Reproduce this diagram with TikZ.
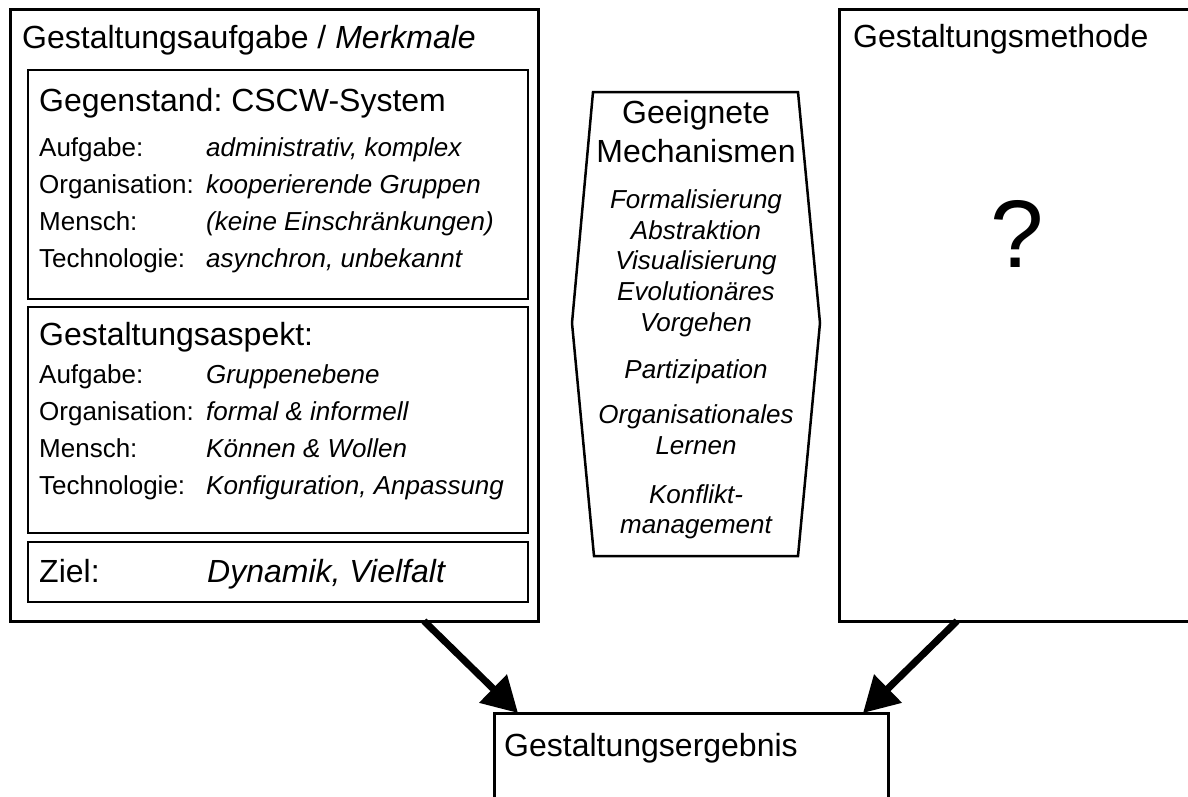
\documentclass[tikz,border=0pt]{standalone}
\usepackage{fontspec}
\setmainfont{Liberation Sans}
\usetikzlibrary{arrows.meta,calc}
\frenchspacing
\begin{document}
\begin{tikzpicture}[x=1pt,y=-1pt,
  bigtxt/.style={font=\fontsize{32}{38}\selectfont, inner sep=0pt, anchor=base west},
  bigit/.style={font=\fontsize{32}{38}\selectfont\itshape, inner sep=0pt, anchor=base west},
  lbltxt/.style={font=\fontsize{26}{31}\selectfont, inner sep=0pt, anchor=base west},
  valtxt/.style={font=\fontsize{26}{31}\selectfont\itshape, inner sep=0pt, anchor=base west},
  mechhead/.style={font=\fontsize{32}{38}\selectfont, inner sep=0pt, anchor=base},
  mechtxt/.style={font=\fontsize{26}{31}\selectfont\itshape, inner sep=0pt, anchor=base},
  outerbox/.style={draw, line width=3pt, inner sep=0pt, outer sep=0pt, anchor=north west},
  innerbox/.style={draw, line width=2pt, inner sep=0pt, outer sep=0pt, anchor=north west},
  plainbox/.style={inner sep=0pt, outer sep=0pt, anchor=north west},
  flow/.style={line width=7pt, -{Triangle[length=35pt,width=38pt]}},
]
\clip (0,0) rectangle (1188,796);
\fill[white] (0,0) rectangle (1188,796);

% design task with its characteristics
\node[outerbox, minimum width=528pt, minimum height=612pt] (task) at (10,9) {};
\node[bigtxt] (taskhead) at (22,48) {Gestaltungsaufgabe / \textit{Merkmale}};

\node[innerbox, minimum width=500pt, minimum height=229pt] (object) at (28,70) {};
\node[bigtxt] (objhead) at (39,111) {Gegenstand: CSCW-System};
\node[lbltxt] (o1l) at (39,156) {Aufgabe:};
\node[valtxt] (o1v) at (206,156) {administrativ, komplex};
\node[lbltxt] (o2l) at (39,193) {Organisation:};
\node[valtxt] (o2v) at (206,193) {kooperierende Gruppen};
\node[lbltxt] (o3l) at (39,230) {Mensch:};
\node[valtxt] (o3v) at (206,230) {(keine Einschränkungen)};
\node[lbltxt] (o4l) at (39,267) {Technologie:};
\node[valtxt] (o4v) at (206,267) {asynchron, unbekannt};

\node[innerbox, minimum width=500pt, minimum height=226pt] (aspect) at (28,307) {};
\node[bigtxt] (asphead) at (39,345) {Gestaltungsaspekt:};
\node[lbltxt] (a1l) at (39,383) {Aufgabe:};
\node[valtxt] (a1v) at (206,383) {Gruppenebene};
\node[lbltxt] (a2l) at (39,420) {Organisation:};
\node[valtxt] (a2v) at (206,420) {formal \& informell};
\node[lbltxt] (a3l) at (39,457) {Mensch:};
\node[valtxt] (a3v) at (206,457) {Können \& Wollen};
\node[lbltxt] (a4l) at (39,494) {Technologie:};
\node[valtxt] (a4v) at (206,494) {Konfiguration, Anpassung};

\node[innerbox, minimum width=500pt, minimum height=60pt] (goal) at (28,542) {};
\node[bigtxt] (goall) at (39,582) {Ziel:};
\node[bigit] (goalv) at (207,582) {Dynamik, Vielfalt};

% suitable mechanisms (hexagon)
\coordinate (h1) at (593,92);
\coordinate (h2) at (798,92);
\coordinate (h3) at (820,323);
\coordinate (h4) at (798,556);
\coordinate (h5) at (594,556);
\coordinate (h6) at (572,323);
\draw[line width=2.5pt, line join=miter] (h1) -- (h2) -- (h3) -- (h4) -- (h5) -- (h6) -- cycle;
\node[mechhead] (m0a) at (696,123) {Geeignete};
\node[mechhead] (m0b) at (696,162) {Mechanismen};
\node[mechtxt] (m1) at (696,208) {Formalisierung};
\node[mechtxt] (m2) at (696,239) {Abstraktion};
\node[mechtxt] (m3) at (696,269) {Visualisierung};
\node[mechtxt] (m4) at (696,300) {Evolutionäres};
\node[mechtxt] (m5) at (696,331) {Vorgehen};
\node[mechtxt] (m6) at (696,378) {Partizipation};
\node[mechtxt] (m7) at (696,423) {Organisationales};
\node[mechtxt] (m8) at (696,454) {Lernen};
\node[mechtxt] (m9) at (696,503) {Konflikt-};
\node[mechtxt] (m10) at (696,533) {management};

% design method
\node[outerbox, minimum width=360pt, minimum height=612pt] (method) at (839,9) {};
\node[bigtxt] (methhead) at (853,47) {Gestaltungsmethode};
\node[font=\fontsize{96}{110}\selectfont, inner sep=0pt, anchor=base] (quest) at (1017,267) {?};

% design result (open towards the bottom)
\node[plainbox, minimum width=394pt, minimum height=120pt] (result) at (494,713) {};
\draw[line width=3pt] (result.south west) -- (result.north west) -- (result.north east) -- (result.south east);
\node[bigtxt] (reshead) at (504,756) {Gestaltungsergebnis};

% flows into the result
\draw[flow] ($(task.south east)+(-114,0)$) -- ($(result.north west)+(24,0)$);
\draw[flow] ($(method.south west)+(118,0)$) -- ($(result.north east)+(-25,0)$);
\end{tikzpicture}
\end{document}
